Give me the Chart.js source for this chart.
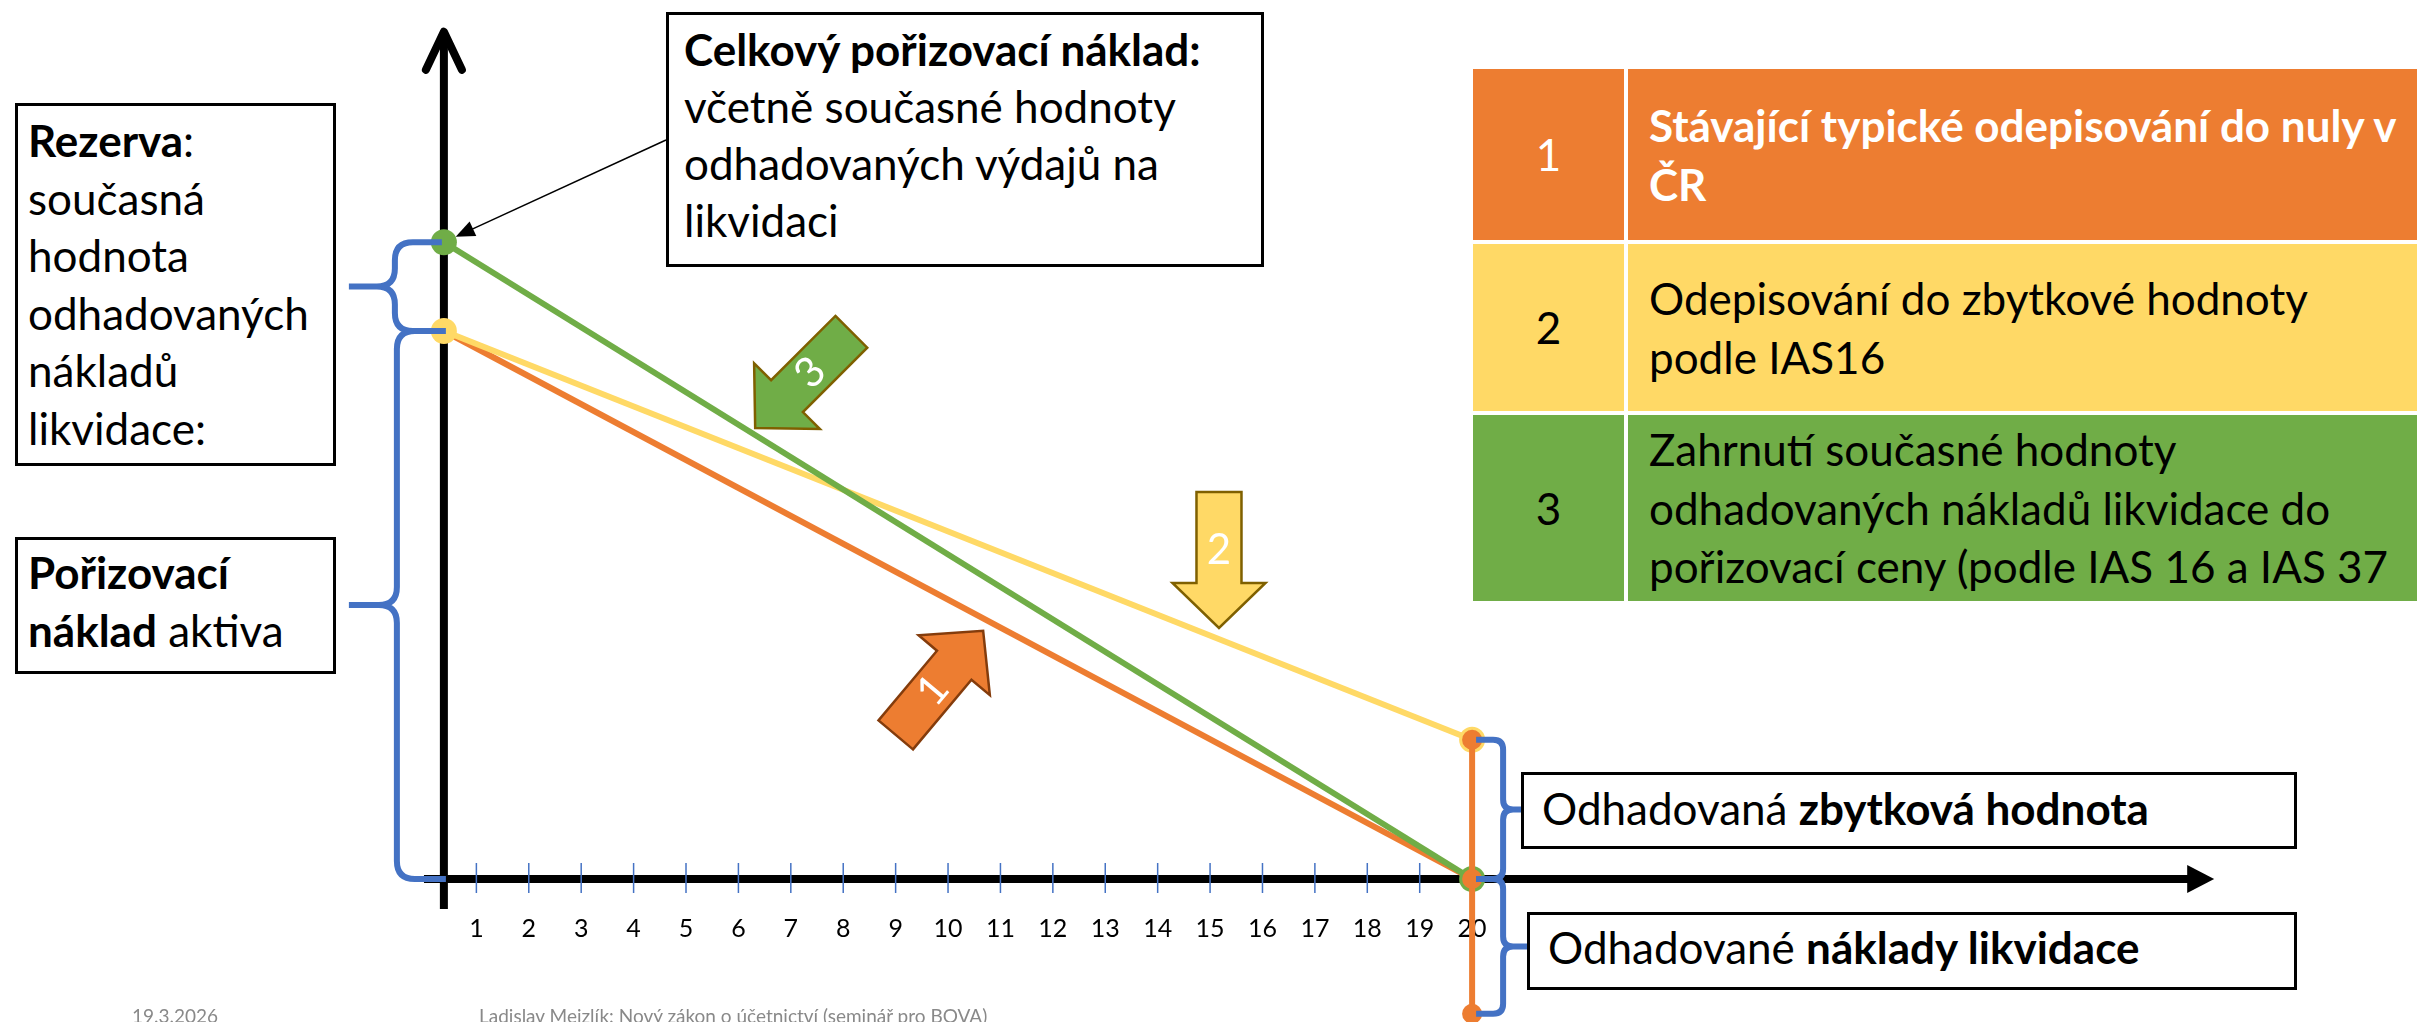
<!DOCTYPE html>
<html lang="cs">
<head>
<meta charset="utf-8">
<title>Rezerva na náklady likvidace</title>
<script src="https://cdn.jsdelivr.net/npm/chart.js@4.4.1/dist/chart.umd.min.js"></script>
<style>
  html, body { margin: 0; padding: 0; background: #fff; }
  #slide { position: relative; width: 2417px; height: 1022px; overflow: hidden;
           font-family: Lato, 'Open Sans', sans-serif; color: #000; }
  #chart { position: absolute; left: 0; top: 0; }
  .box { position: absolute; box-sizing: border-box; border: 3px solid #000; background: #fff;
         font-size: 44px; line-height: 57.5px; white-space: nowrap; }
  .cell { position: absolute; box-sizing: border-box; display: flex; align-items: center;
          font-size: 44px; line-height: 58.5px; white-space: nowrap; }
  .num { justify-content: center; }
  .txt { padding-left: 21px; }
  .footer { position: absolute; top: 1004px; font-size: 19px; color: #898989; white-space: nowrap; }
</style>
</head>
<body>
<div id="slide">
  <canvas id="chart" width="2417" height="1022"></canvas>

  <div class="box" style="left:15px; top:103px; width:321px; height:363px; padding:6px 0 0 10px;">
    <b>Rezerva</b>:<br>současná<br>hodnota<br>odhadovaných<br>nákladů<br>likvidace:
  </div>
  <div class="box" style="left:15px; top:537px; width:321px; height:137px; padding:4px 0 0 10px;">
    <b>Pořizovací<br>náklad</b> aktiva
  </div>
  <div class="box" style="left:666px; top:12px; width:598px; height:255px; padding:6px 0 0 15px; line-height:57px;">
    <b>Celkový pořizovací náklad:</b><br>včetně současné hodnoty<br>odhadovaných výdajů na<br>likvidaci
  </div>
  <div class="box" style="left:1521px; top:772px; width:776px; height:77px; padding:5px 0 0 18px;">
    Odhadovaná <b>zbytková hodnota</b>
  </div>
  <div class="box" style="left:1527px; top:912px; width:770px; height:78px; padding:4px 0 0 18px;">
    Odhadované <b>náklady likvidace</b>
  </div>

  <div class="cell num" style="left:1473px; top:69px; width:151px; height:171px; background:#ED7D31; color:#fff;">1</div>
  <div class="cell txt" style="left:1628px; top:69px; width:900px; height:171px; background:#ED7D31; color:#fff;">
    <b>Stávající typické odepisování do nuly v<br>ČR</b>
  </div>
  <div class="cell num" style="left:1473px; top:244px; width:151px; height:167px; background:#FFD966;">2</div>
  <div class="cell txt" style="left:1628px; top:244px; width:900px; height:167px; background:#FFD966;">
    Odepisování do zbytkové hodnoty<br>podle IAS16
  </div>
  <div class="cell num" style="left:1473px; top:415px; width:151px; height:186px; background:#70AD47;">3</div>
  <div class="cell txt" style="left:1628px; top:415px; width:900px; height:186px; background:#70AD47;">
    Zahrnutí současné hodnoty<br>odhadovaných nákladů likvidace do<br>pořizovací ceny (podle IAS 16 a IAS 37
  </div>

  <div class="footer" style="left:132px;">19.3.2026</div>
  <div class="footer" style="left:479px;">Ladislav Mejzlík: Nový zákon o účetnictví (seminář pro BOVA)</div>
</div>

<script>
// Years on the horizontal axis
const years = [1, 2, 3, 4, 5, 6, 7, 8, 9, 10, 11, 12, 13, 14, 15, 16, 17, 18, 19, 20];
const yearLabels = ['1', '2', '3', '4', '5', '6', '7', '8', '9', '10',
                    '11', '12', '13', '14', '15', '16', '17', '18', '19', '20'];

// Start (on the vertical axis) and end of useful life
const lifeSpan = [0.38, 20];

// Carrying amount, cost of the asset = 100
const writeOffToZero = [100, 0];        // 1 - typical write-off to zero in CR
const writeOffToResidual = [100, 25.4]; // 2 - write-off to residual value (IAS 16)
const costWithProvision = [116.2, 0];   // 3 - cost incl. present value of disposal costs

// Markers at the end of life: residual value, zero, minus disposal costs
const endMarkers = [25.4, 0, -24.6];

const colors = {
  orange: '#ED7D31',
  yellow: '#FFD966',
  green: '#70AD47',
  blue: '#4472C4',
  black: '#000000'
};

const deg = Math.PI / 180;

function toPoints(xs, ys) {
  return ys.map((v, i) => ({ x: xs[i], y: v }));
}

// Curly brace, ends at xEnd, spine at xSpine, pointing to xTip
function drawBrace(ctx, xEnd, y1, y2, xSpine, xTip, r) {
  const s = Math.sign(xEnd - xSpine);
  const mid = (y1 + y2) / 2;
  ctx.beginPath();
  ctx.moveTo(xEnd, y1);
  ctx.lineTo(xSpine + s * r, y1);
  ctx.quadraticCurveTo(xSpine, y1, xSpine, y1 + r);
  ctx.lineTo(xSpine, mid - r);
  ctx.quadraticCurveTo(xSpine, mid, xSpine - s * r, mid);
  ctx.lineTo(xTip, mid);
  ctx.moveTo(xSpine - s * r, mid);
  ctx.quadraticCurveTo(xSpine, mid, xSpine, mid + r);
  ctx.lineTo(xSpine, y2 - r);
  ctx.quadraticCurveTo(xSpine, y2, xSpine + s * r, y2);
  ctx.lineTo(xEnd, y2);
  ctx.stroke();
}

// Block arrow pointing at (tipX, tipY); angle turns a down arrow, textAngle turns its number
function drawBlockArrow(ctx, tipX, tipY, angle, textAngle, label, fill, stroke) {
  ctx.save();
  ctx.translate(tipX, tipY);
  ctx.rotate(angle);
  ctx.beginPath();
  ctx.moveTo(-22.5, -136);
  ctx.lineTo(22.5, -136);
  ctx.lineTo(22.5, -45);
  ctx.lineTo(46.5, -45);
  ctx.lineTo(0, 0);
  ctx.lineTo(-46.5, -45);
  ctx.lineTo(-22.5, -45);
  ctx.closePath();
  ctx.fillStyle = fill;
  ctx.fill();
  ctx.lineWidth = 2.5;
  ctx.strokeStyle = stroke;
  ctx.stroke();
  ctx.translate(0, -78);
  ctx.rotate(textAngle - angle);
  ctx.fillStyle = '#fff';
  ctx.font = '42px Lato';
  ctx.textAlign = 'center';
  ctx.textBaseline = 'middle';
  ctx.fillText(label, 0, 0);
  ctx.restore();
}

const diagramPlugin = {
  id: 'diagram',
  beforeDatasetsDraw(chart) {
    const { ctx, scales: { x, y } } = chart;
    const ax = x.getPixelForValue(lifeSpan[0]);
    const ay = y.getPixelForValue(0);
    const xTip = x.getPixelForValue(34.16);
    const yTop = y.getPixelForValue(154.6);

    ctx.save();
    ctx.strokeStyle = colors.black;
    ctx.fillStyle = colors.black;
    ctx.lineWidth = 8;

    // horizontal axis with filled head
    ctx.beginPath();
    ctx.moveTo(x.getPixelForValue(0), ay);
    ctx.lineTo(xTip - 20, ay);
    ctx.stroke();
    ctx.beginPath();
    ctx.moveTo(xTip, ay);
    ctx.lineTo(xTip - 27, ay - 14);
    ctx.lineTo(xTip - 27, ay + 14);
    ctx.closePath();
    ctx.fill();

    // vertical axis with open head
    ctx.beginPath();
    ctx.moveTo(ax, y.getPixelForValue(-5.5));
    ctx.lineTo(ax, yTop + 3);
    ctx.stroke();
    ctx.lineCap = 'round';
    ctx.lineJoin = 'round';
    ctx.beginPath();
    ctx.moveTo(ax - 18, yTop + 38);
    ctx.lineTo(ax, yTop);
    ctx.lineTo(ax + 18, yTop + 38);
    ctx.stroke();

    // year ticks and labels
    ctx.lineCap = 'butt';
    ctx.strokeStyle = colors.blue;
    ctx.lineWidth = 1.5;
    ctx.font = '25px Lato';
    ctx.textAlign = 'center';
    ctx.textBaseline = 'middle';
    years.forEach((v, i) => {
      const px = x.getPixelForValue(v);
      ctx.beginPath();
      ctx.moveTo(px, ay - 16);
      ctx.lineTo(px, ay + 14);
      ctx.stroke();
      ctx.fillText(yearLabels[i], px, ay + 50);
    });
    ctx.restore();
  },
  afterDatasetsDraw(chart) {
    const { ctx, scales: { x, y } } = chart;
    const ax = x.getPixelForValue(lifeSpan[0]);
    const ex = x.getPixelForValue(lifeSpan[1]);

    // braces
    ctx.save();
    ctx.strokeStyle = colors.blue;
    ctx.lineWidth = 6;
    ctx.lineJoin = 'round';
    drawBrace(ctx, ax - 2, y.getPixelForValue(costWithProvision[0]), y.getPixelForValue(writeOffToZero[0]),
              ax - 49, ax - 95, 18);
    drawBrace(ctx, ax + 2, y.getPixelForValue(writeOffToZero[0]), y.getPixelForValue(0),
              ax - 47, ax - 95, 18);
    drawBrace(ctx, ex + 4, y.getPixelForValue(endMarkers[0]), y.getPixelForValue(endMarkers[1]),
              ex + 31, ex + 49, 10);
    drawBrace(ctx, ex + 4, y.getPixelForValue(endMarkers[1]), y.getPixelForValue(endMarkers[2]),
              ex + 31, ex + 58, 10);
    ctx.restore();

    // numbered block arrows
    drawBlockArrow(ctx, x.getPixelForValue(10.67), y.getPixelForValue(45.3), -140 * deg, -50 * deg,
                   '1', colors.orange, '#843C0C');
    drawBlockArrow(ctx, x.getPixelForValue(15.17), y.getPixelForValue(45.8), 0, 0,
                   '2', colors.yellow, '#7F6000');
    drawBlockArrow(ctx, x.getPixelForValue(6.32), y.getPixelForValue(82.3), 45 * deg, -45 * deg,
                   '3', colors.green, '#7F6000');

    // callout from the "Celkový pořizovací náklad" box to the green start point
    const gx = ax;
    const gy = y.getPixelForValue(costWithProvision[0]);
    const sx = 666, sy = 140;
    const len = Math.hypot(sx - gx, sy - gy);
    const ux = (sx - gx) / len, uy = (sy - gy) / len;
    const tx = gx + 13 * ux, ty = gy + 13 * uy;
    ctx.save();
    ctx.strokeStyle = colors.black;
    ctx.fillStyle = colors.black;
    ctx.lineWidth = 1.5;
    ctx.beginPath();
    ctx.moveTo(sx, sy);
    ctx.lineTo(tx + 14 * ux, ty + 14 * uy);
    ctx.stroke();
    ctx.beginPath();
    ctx.moveTo(tx, ty);
    ctx.lineTo(tx + 19 * ux - 8 * uy, ty + 19 * uy + 8 * ux);
    ctx.lineTo(tx + 19 * ux + 8 * uy, ty + 19 * uy - 8 * ux);
    ctx.closePath();
    ctx.fill();
    ctx.restore();
  }
};

new Chart(document.getElementById('chart'), {
  type: 'line',
  data: {
    datasets: [
      {
        label: 'Konec životnosti',
        data: endMarkers.map(v => ({ x: lifeSpan[1], y: v })),
        borderColor: colors.orange,
        backgroundColor: colors.orange,
        borderWidth: 6,
        pointRadius: 10,
        pointBorderWidth: 0
      },
      {
        label: '3',
        data: toPoints(lifeSpan, costWithProvision),
        borderColor: colors.green,
        backgroundColor: colors.green,
        borderWidth: 6,
        pointRadius: 13,
        pointBorderWidth: 0
      },
      {
        label: '2',
        data: toPoints(lifeSpan, writeOffToResidual),
        borderColor: colors.yellow,
        backgroundColor: colors.yellow,
        borderWidth: 6,
        pointRadius: 13,
        pointBorderWidth: 0
      },
      {
        label: '1',
        data: toPoints(lifeSpan, writeOffToZero),
        borderColor: colors.orange,
        backgroundColor: colors.orange,
        borderWidth: 6,
        pointRadius: 10,
        pointBorderWidth: 0
      }
    ]
  },
  options: {
    responsive: false,
    animation: false,
    devicePixelRatio: 1,
    events: [],
    layout: { padding: 0, autoPadding: false },
    elements: { line: { tension: 0 } },
    plugins: {
      legend: { display: false },
      tooltip: { enabled: false }
    },
    scales: {
      x: { type: 'linear', min: -8.09, max: 38.03, display: false },
      y: { type: 'linear', min: -26.1, max: 160.4, display: false }
    }
  },
  plugins: [diagramPlugin]
});
</script>
</body>
</html>
